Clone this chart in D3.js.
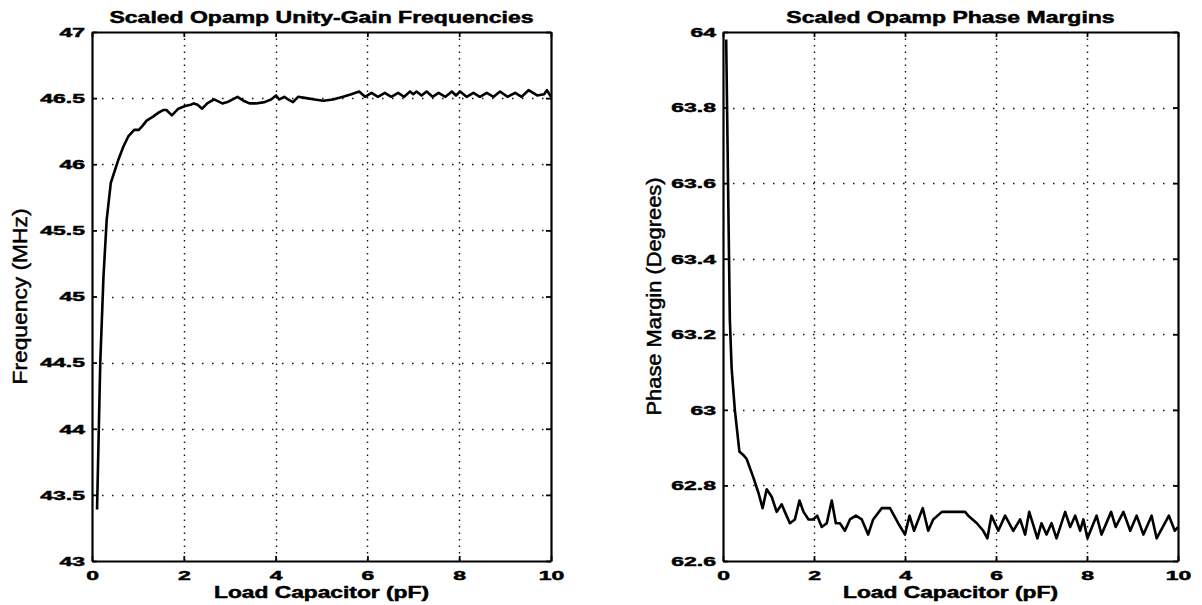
<!DOCTYPE html>
<html>
<head>
<meta charset="utf-8">
<script src="https://cdn.jsdelivr.net/npm/d3@7"></script>
<style>
  html, body { margin: 0; padding: 0; background: #fff; }
  svg { display: block; }
  text { font-family: "Liberation Sans", Arial, Helvetica, sans-serif; fill: #000; }
</style>
</head>
<body>
<svg id="fig" width="1202" height="605"></svg>
<script>
// Load capacitance sweep (pF) and unity-gain frequency (MHz)
const capFreq = [0.11, 0.18, 0.25, 0.32, 0.41, 0.57, 0.68, 0.79, 0.92, 1.02, 1.10, 1.19, 1.33, 1.45, 1.55, 1.62, 1.74, 1.88,
  2.03, 2.15, 2.22, 2.30, 2.40, 2.51, 2.66, 2.84, 2.95, 3.17, 3.30, 3.43, 3.57, 3.76, 3.90, 4.01, 4.08, 4.19, 4.27, 4.38,
  4.49, 4.67, 4.85, 5.04, 5.25, 5.47, 5.65, 5.82, 5.95, 6.09, 6.23, 6.38, 6.52, 6.67, 6.80, 6.93, 7.00, 7.07, 7.18, 7.29,
  7.42, 7.55, 7.70, 7.84, 7.93, 8.02, 8.16, 8.31, 8.45, 8.60, 8.75, 8.89, 9.05, 9.22, 9.36, 9.51, 9.70, 9.85, 9.91, 10.0];
const freqMHz = [43.39, 44.50, 45.15, 45.58, 45.86, 46.03, 46.13, 46.21, 46.26, 46.26, 46.29, 46.33, 46.36, 46.39, 46.41, 46.41, 46.37, 46.42,
  46.44, 46.45, 46.46, 46.45, 46.42, 46.46, 46.49, 46.46, 46.47, 46.51, 46.48, 46.46, 46.46, 46.47, 46.49, 46.52, 46.49, 46.51, 46.49, 46.47,
  46.51, 46.50, 46.49, 46.48, 46.49, 46.51, 46.53, 46.55, 46.51, 46.54, 46.51, 46.54, 46.51, 46.54, 46.51, 46.55, 46.53, 46.55, 46.52, 46.55,
  46.51, 46.54, 46.51, 46.55, 46.52, 46.55, 46.51, 46.54, 46.51, 46.54, 46.51, 46.55, 46.51, 46.54, 46.51, 46.56, 46.52, 46.53, 46.56, 46.51];

// Load capacitance sweep (pF) and phase margin (degrees)
const capPhase = [0.07, 0.15, 0.19, 0.26, 0.36, 0.45, 0.52, 0.67, 0.78, 0.87, 0.96, 1.07, 1.18, 1.29, 1.36, 1.47, 1.58, 1.68, 1.77,
  1.88, 1.98, 2.07, 2.17, 2.28, 2.39, 2.48, 2.57, 2.68, 2.79, 2.92, 3.05, 3.19, 3.30, 3.49, 3.67, 3.85, 4.00, 4.10, 4.20,
  4.39, 4.51, 4.62, 4.81, 5.32, 5.39, 5.58, 5.72, 5.81, 5.90, 6.05, 6.20, 6.38, 6.53, 6.64, 6.73, 6.91, 7.00, 7.11, 7.22,
  7.33, 7.52, 7.63, 7.74, 7.85, 7.92, 8.01, 8.21, 8.32, 8.53, 8.63, 8.80, 8.95, 9.09, 9.24, 9.42, 9.53, 9.80, 9.93, 10.0];
const phaseDeg = [63.98, 63.24, 63.11, 63.00, 62.89, 62.88, 62.87, 62.82, 62.78, 62.74, 62.79, 62.77, 62.73, 62.75, 62.73, 62.70, 62.71, 62.76, 62.73,
  62.71, 62.71, 62.72, 62.69, 62.70, 62.76, 62.70, 62.70, 62.68, 62.71, 62.72, 62.71, 62.67, 62.71, 62.74, 62.74, 62.70, 62.67, 62.72, 62.68,
  62.74, 62.68, 62.71, 62.73, 62.73, 62.72, 62.70, 62.68, 62.66, 62.72, 62.68, 62.72, 62.68, 62.71, 62.67, 62.73, 62.66, 62.70, 62.67, 62.70,
  62.66, 62.73, 62.69, 62.72, 62.68, 62.71, 62.66, 62.72, 62.67, 62.73, 62.69, 62.73, 62.68, 62.72, 62.67, 62.72, 62.66, 62.72, 62.68, 62.69];

// Tick values and labels
const capTicks = [0, 2, 4, 6, 8, 10];
const freqTicks = [43, 43.5, 44, 44.5, 45, 45.5, 46, 46.5, 47];
const freqTickLabels = ["43", "43.5", "44", "44.5", "45", "45.5", "46", "46.5", "47"];
const phaseTicks = [62.6, 62.8, 63.0, 63.2, 63.4, 63.6, 63.8, 64.0];
const phaseTickLabels = ["62.6", "62.8", "63", "63.2", "63.4", "63.6", "63.8", "64"];

const titles = ["Scaled Opamp Unity-Gain Frequencies", "Scaled Opamp Phase Margins"];
const xLabel = "Load Capacitor (pF)";
const yLabels = ["Frequency (MHz)", "Phase Margin (Degrees)"];

const svg = d3.select("#fig");
const TICK_SX = 1.7;      // the printed glyphs are wide
const TITLE_W = 424;      // width of the longer title

// widen a text element along its baseline
function widen(sel, k) {
  sel.each(function () {
    const w = this.getComputedTextLength();
    d3.select(this).attr("textLength", w * k).attr("lengthAdjust", "spacingAndGlyphs");
  });
}
function heavy(sel, w) {
  sel.attr("stroke", "#000").attr("stroke-width", w).attr("paint-order", "stroke");
}
function styleTicks(sel) {
  sel.attr("font-size", 13.5).attr("font-weight", "bold").attr("font-family", null);
  widen(sel, TICK_SX);
  heavy(sel, 0.5);
}

// measure title scale once, so both titles share it
const probe = svg.append("text").attr("font-size", 16.5).attr("font-weight", "bold").text(titles[0]);
const TITLE_SX = TITLE_W / probe.node().getComputedTextLength();
probe.remove();

function panel(o) {
  const x = d3.scaleLinear().domain([0, 10]).range([o.left, o.right]);
  const y = d3.scaleLinear().domain(o.yDomain).range([o.bottom, o.top]);
  const g = svg.append("g");

  // dotted grid
  g.append("g").selectAll("line").data(o.yTicks.slice(1, -1)).join("line")
    .attr("x1", o.left).attr("x2", o.right)
    .attr("y1", d => Math.round(y(d)) + 0.5).attr("y2", d => Math.round(y(d)) + 0.5)
    .attr("stroke", "#111").attr("stroke-width", 1.4).attr("stroke-dasharray", "1.5,8.5");
  g.append("g").selectAll("line").data(capTicks.slice(1, -1)).join("line")
    .attr("x1", d => Math.round(x(d)) + 0.5).attr("x2", d => Math.round(x(d)) + 0.5)
    .attr("y1", o.top).attr("y2", o.bottom)
    .attr("stroke", "#111").attr("stroke-width", 1.4).attr("stroke-dasharray", "1.5,5");

  // curve
  const pts = o.xs.map((d, i) => [d, o.ys[i]]);
  g.append("path").datum(pts)
    .attr("fill", "none").attr("stroke", "#000").attr("stroke-width", 2.6)
    .attr("stroke-linejoin", "round")
    .attr("d", d3.line().x(d => x(d[0])).y(d => y(d[1])));

  // axes box with inward ticks on all four sides
  const axB = d3.axisBottom(x).tickValues(capTicks).tickFormat(d3.format("d")).tickSizeInner(-5).tickSizeOuter(0).tickPadding(9);
  const axT = d3.axisTop(x).tickValues(capTicks).tickFormat("").tickSizeInner(-5).tickSizeOuter(0);
  const axL = d3.axisLeft(y).tickValues(o.yTicks).tickFormat((d, i) => o.yTickLabels[i]).tickSizeInner(-5).tickSizeOuter(0).tickPadding(7);
  const axR = d3.axisRight(y).tickValues(o.yTicks).tickFormat("").tickSizeInner(-5).tickSizeOuter(0);

  const gb = g.append("g").attr("transform", `translate(0,${o.bottom})`).call(axB);
  g.append("g").attr("transform", `translate(0,${o.top})`).call(axT);
  const gl = g.append("g").attr("transform", `translate(${o.left},0)`).call(axL);
  g.append("g").attr("transform", `translate(${o.right},0)`).call(axR);

  g.selectAll(".domain").attr("stroke", "#000").attr("stroke-width", 2.2);
  g.selectAll(".tick line").attr("stroke", "#000").attr("stroke-width", 1.8);

  styleTicks(gb.selectAll("text"));
  styleTicks(gl.selectAll("text"));

  // title
  const cx = (o.left + o.right) / 2;
  const t = g.append("text").attr("x", cx).attr("y", 23)
    .attr("text-anchor", "middle").attr("font-size", 16.5).attr("font-weight", "bold")
    .text(o.title);
  widen(t, TITLE_SX);
  heavy(t, 0.5);

  // x label
  const xl = g.append("text").attr("x", cx).attr("y", 598)
    .attr("text-anchor", "middle").attr("font-size", 16).attr("font-weight", "bold")
    .text(xLabel);
  xl.attr("textLength", 215).attr("lengthAdjust", "spacingAndGlyphs");
  heavy(xl, 0.5);

  // y label (rotated, tall glyphs)
  const cy = (o.top + o.bottom) / 2;
  const yl = g.append("text")
    .attr("transform", `translate(${o.yLabelX},${cy}) rotate(-90) scale(1,1.35)`)
    .attr("text-anchor", "middle").attr("font-size", 14.5)
    .text(o.yLabel);
  yl.attr("textLength", o.yLabelLen).attr("lengthAdjust", "spacingAndGlyphs");
  heavy(yl, 0.35);
}

panel({
  left: 92, right: 551, top: 32, bottom: 561,
  yDomain: [43, 47], yTicks: freqTicks, yTickLabels: freqTickLabels,
  xs: capFreq, ys: freqMHz, title: titles[0], yLabel: yLabels[0],
  yLabelX: 27, yLabelLen: 176
});

panel({
  left: 723, right: 1178, top: 32, bottom: 561,
  yDomain: [62.6, 64], yTicks: phaseTicks, yTickLabels: phaseTickLabels,
  xs: capPhase, ys: phaseDeg, title: titles[1], yLabel: yLabels[1],
  yLabelX: 661, yLabelLen: 238
});
</script>
</body>
</html>
